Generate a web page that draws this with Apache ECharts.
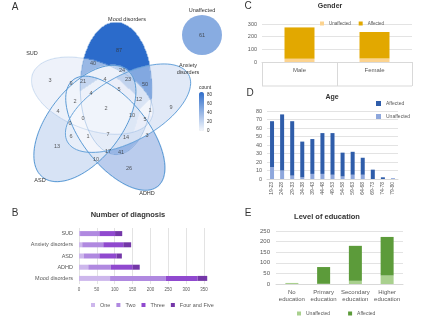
<!DOCTYPE html>
<html>
<head>
<meta charset="utf-8">
<script src="https://cdn.jsdelivr.net/npm/echarts@6/dist/echarts.min.js"></script>
<style>
html, body { margin: 0; padding: 0; background: #fff; }
#chart { width: 440px; height: 327px; }
</style>
</head>
<body>
<div id="chart"></div>
<script>
// ---- A: Venn diagram counts
var vennSets = ['Mood disorders', 'Anxiety disorders', 'ADHD', 'ASD', 'SUD'];
var vennCounts = [87, 40, 3, 24, 23, 50, 9, 21, 4, 4, 5, 12, 9, 2, 4, 2, 1, 10, 5, 0, 0, 6, 1, 7, 14, 3, 13, 17, 41, 10, 26];
var unaffectedCount = 61;
var countTicks = [0, 20, 40, 60, 80];

// ---- B: number of diagnosis
var diagCats = ['SUD', 'Anxiety disorders', 'ASD', 'ADHD', 'Mood disorders'];
var diagOne = [3, 9, 13, 26, 87];
var diagTwo = [54, 59, 44, 63, 156];
var diagThree = [44, 56, 48, 61, 89];
var diagFour = [20, 22, 15, 20, 27];

// ---- C: gender
var genderCats = ['Male', 'Female'];
var genderUnaff = [26, 28];
var genderAff = [247, 209];

// ---- D: age
var ageCats = ['19-23', '24-28', '29-33', '34-38', '39-43', '44-48', '49-53', '54-58', '59-63', '64-68', '69-73', '74-78', '79-80'];
var ageAff = [54, 66, 64, 42, 41, 48, 49, 28, 27, 20, 11, 2, 0];
var ageUnaff = [14, 10, 4, 2, 6, 6, 5, 3, 5, 5, 0, 0, 1];

// ---- E: level of education
var eduCats = ['No\neducation', 'Primary\neducation', 'Secondary\neducation', 'Higher\neducation'];
var eduUnaff = [5, 1, 15, 40];
var eduAff = [0, 79, 165, 182];

// ---- venn layout in pixels: label anchors, set ellipses [cx, cy, a, b, angle]
var vennPos = [[119,50],[93,63],[50,80],[122,70],[128,79],[145,84],[71,83],[83,81],[105,79],[91,93],[119,89],[139,99],[171,107],[75,101],[58,111],[106,108],[150,110],[132,115],[145,119],[70,123],[83,118],[71,136],[88,136],[108,134],[126,137],[147,135],[57,146],[108,151],[121,152],[96,159],[129,168]];
var ellipses = [
  [116.1, 88.6, 66.0, 35.8, -90.3],
  [128.0, 108.2, 69.3, 32.8, -29.1],
  [115.3, 133.2, 68.0, 33.0, 51.5],
  [84.9, 123.5, 68.3, 36.3, 128.3],
  [92.3, 95.7, 63.5, 34.0, 200.0]
];
var unaffCircle = [202, 35, 40];
var VX = 25, VY = 12, VW = 200, VH = 190;
var FONT = 'Liberation Sans';

function inside(e, px, py) {
  var t = e[4] * Math.PI / 180, dx = px - e[0], dy = py - e[1];
  var u = dx * Math.cos(t) + dy * Math.sin(t), v = -dx * Math.sin(t) + dy * Math.cos(t);
  return u * u / (e[2] * e[2]) + v * v / (e[3] * e[3]) <= 1;
}
function maskAt(px, py) {
  var m = 0;
  ellipses.forEach(function (e, k) { if (inside(e, px, py)) m |= 1 << k; });
  return m;
}
var labelMasks = vennPos.map(function (p) { return maskAt(p[0], p[1]); });

// each venn cell takes the count of the closest label lying in the same region
function regionValue(m, px, py) {
  var bi = -1, bd = Infinity, ai = -1, ad = Infinity;
  for (var k = 0; k < labelMasks.length; k++) {
    var dd = Math.pow(vennPos[k][0] - px, 2) + Math.pow(vennPos[k][1] - py, 2);
    if (dd < ad) { ad = dd; ai = k; }
    if (labelMasks[k] === m && dd < bd) { bd = dd; bi = k; }
  }
  return vennCounts[bi < 0 ? ai : bi];
}
var cells = [];
for (var j = 0; j < VH; j++) {
  for (var i = 0; i < VW; i++) {
    var px = VX + i + 0.5, py = VY + j + 0.5, m = maskAt(px, py);
    if (m) cells.push([i, j, regionValue(m, px, py)]);
  }
}

function outline(e) {
  var pts = [], t = e[4] * Math.PI / 180;
  for (var s = 0; s <= 180; s++) {
    var a = s / 180 * Math.PI * 2;
    pts.push([e[0] + e[2] * Math.cos(a) * Math.cos(t) - e[3] * Math.sin(a) * Math.sin(t) - VX,
              e[1] + e[2] * Math.cos(a) * Math.sin(t) + e[3] * Math.sin(a) * Math.cos(t) - VY]);
  }
  return pts;
}
var outlineColors = ['rgba(70,130,200,0.3)', '#6aa5db', '#5b9bd5', '#5b9bd5', 'rgba(70,130,200,0.2)'];

function idx(n) { var a = []; for (var q = 0; q < n; q++) a.push(q); return a; }
function T(text, x, y, size, weight, align) {
  return { text: text, left: x, top: y, padding: 0, textAlign: align || 'center', textVerticalAlign: 'middle',
    textStyle: { fontSize: size, fontWeight: weight || 'normal', color: '#333', fontFamily: FONT, lineHeight: size * 1.15 } };
}
function trimName(n) { return n.trim(); }
var axisTxt = { color: '#595959', fontFamily: FONT };
var grayLine = { lineStyle: { color: '#e3e3e3' } };

var titles = [
  T('A', 15, 7, 10), T('B', 15, 213, 10), T('C', 248, 6, 10), T('D', 250, 93, 10), T('E', 248, 213, 10),
  T('Number of diagnosis', 128, 215, 7.5, 'bold'), T('Gender', 330, 6, 7, 'bold'),
  T('Age', 332, 97, 7, 'bold'), T('Level of education', 327, 217, 7.5, 'bold'),
  T('Unaffected', 202, 10, 5.5), T(vennSets[0], 127, 19, 5.5), T(vennSets[4], 32, 53, 5.5),
  T('Anxiety\ndisorders', 188, 69, 5.5), T(vennSets[3], 40, 180, 5.5), T(vennSets[2], 147, 193, 5.5),
  T('count', 199, 88, 5, 'normal', 'left')
];
countTicks.forEach(function (v) {
  titles.push(T(String(v), 207, 92 + 39 * (1 - v / 87), 4.5, 'normal', 'left'));
});

var vennLabels = vennPos.map(function (p, k) { return [p[0] - VX, p[1] - VY, vennCounts[k]]; });
vennLabels.push([unaffCircle[0] - VX, unaffCircle[1] - VY, unaffectedCount]);

var series = [
  { type: 'heatmap', xAxisIndex: 0, yAxisIndex: 0, data: cells, progressive: 0, silent: true },
  { type: 'scatter', xAxisIndex: 1, yAxisIndex: 1, symbolSize: unaffCircle[2], silent: true,
    data: [[unaffCircle[0] - VX, unaffCircle[1] - VY, unaffectedCount]] }
];
ellipses.forEach(function (e, k) {
  series.push({ type: 'line', xAxisIndex: 1, yAxisIndex: 1, data: outline(e), symbol: 'none',
    silent: true, clip: false, lineStyle: { width: 1, color: outlineColors[k] }, z: 3 });
});
series.push({ type: 'scatter', xAxisIndex: 1, yAxisIndex: 1, data: vennLabels, symbolSize: 1, silent: true, z: 4,
  itemStyle: { color: 'rgba(0,0,0,0)' },
  label: { show: true, position: 'inside', formatter: function (p) { return p.value[2]; },
    fontSize: 5.5, color: '#333', fontFamily: FONT } });

var diagColors = ['#cdb7ec', '#b089e0', '#9049cf', '#7437a8'];
[['One', diagOne], ['Two', diagTwo], ['Three', diagThree], ['Four and Five', diagFour]].forEach(function (s, k) {
  series.push({ type: 'bar', name: s[0], xAxisIndex: 2, yAxisIndex: 2, stack: 'diag', data: s[1], barWidth: 5,
    clip: false, itemStyle: { color: diagColors[k] } });
});
series.push({ type: 'bar', name: 'Unaffected', xAxisIndex: 3, yAxisIndex: 3, stack: 'g', data: genderUnaff, barWidth: 30, itemStyle: { color: '#fcd38f' } });
series.push({ type: 'bar', name: 'Affected', xAxisIndex: 3, yAxisIndex: 3, stack: 'g', data: genderAff, barWidth: 30, itemStyle: { color: '#e2a800' } });
series.push({ type: 'bar', name: 'Unaffected ', xAxisIndex: 4, yAxisIndex: 4, stack: 'a', data: ageUnaff, barWidth: 4, itemStyle: { color: '#8ea7dc' } });
series.push({ type: 'bar', name: 'Affected ', xAxisIndex: 4, yAxisIndex: 4, stack: 'a', data: ageAff, barWidth: 4, itemStyle: { color: '#2f5daa' } });
series.push({ type: 'bar', name: 'Unaffected  ', xAxisIndex: 5, yAxisIndex: 5, stack: 'e', data: eduUnaff, barWidth: 13, itemStyle: { color: '#a9d08e' } });
series.push({ type: 'bar', name: 'Affected  ', xAxisIndex: 5, yAxisIndex: 5, stack: 'e', data: eduAff, barWidth: 13, itemStyle: { color: '#5c9b3a' } });

var hidden = { show: false };
var chart = echarts.init(document.getElementById('chart'));
chart.setOption({
  animation: false,
  backgroundColor: '#fff',
  title: titles,
  grid: [
    { left: VX, top: VY, width: VW, height: VH, outerBoundsMode: 'none' },
    { left: VX, top: VY, width: VW, height: VH, outerBoundsMode: 'none' },
    { left: 79, top: 228, width: 125, height: 56, outerBoundsMode: 'none' },
    { left: 262, top: 24, width: 150, height: 38, outerBoundsMode: 'none' },
    { left: 267, top: 111, width: 131, height: 68, outerBoundsMode: 'none' },
    { left: 276, top: 231, width: 127, height: 53, outerBoundsMode: 'none' }
  ],
  xAxis: [
    { type: 'category', gridIndex: 0, data: idx(VW), show: false },
    { type: 'value', gridIndex: 1, min: 0, max: VW, show: false },
    { type: 'value', gridIndex: 2, min: 0, max: 350, interval: 50, axisLine: hidden, axisTick: hidden,
      splitLine: grayLine, axisLabel: Object.assign({ fontSize: 4.5, margin: 3 }, axisTxt) },
    { type: 'category', gridIndex: 3, data: genderCats, axisLine: { lineStyle: { color: '#d9d9d9' } },
      axisTick: { show: true, length: 24, lineStyle: { color: '#d9d9d9' } },
      axisLabel: Object.assign({ fontSize: 6, margin: 5 }, axisTxt) },
    { type: 'category', gridIndex: 4, data: ageCats, axisLine: { lineStyle: { color: '#d9d9d9' } }, axisTick: hidden,
      axisLabel: Object.assign({ fontSize: 5, rotate: 90, margin: 3, interval: 0 }, axisTxt) },
    { type: 'category', gridIndex: 5, data: eduCats, axisLine: { lineStyle: { color: '#d9d9d9' } }, axisTick: hidden,
      axisLabel: Object.assign({ fontSize: 6, lineHeight: 6.7, margin: 5, interval: 0 }, axisTxt) }
  ],
  yAxis: [
    { type: 'category', gridIndex: 0, data: idx(VH), inverse: true, show: false },
    { type: 'value', gridIndex: 1, min: 0, max: VH, inverse: true, show: false },
    { type: 'category', gridIndex: 2, data: diagCats, inverse: true, axisLine: hidden, axisTick: hidden,
      axisLabel: Object.assign({ fontSize: 5.5, margin: 6 }, axisTxt) },
    { type: 'value', gridIndex: 3, min: 0, max: 300, interval: 100, axisLine: hidden, axisTick: hidden,
      splitLine: grayLine, axisLabel: Object.assign({ fontSize: 5.5, margin: 5 }, axisTxt) },
    { type: 'value', gridIndex: 4, min: 0, max: 80, interval: 10, axisLine: hidden, axisTick: hidden,
      splitLine: grayLine, axisLabel: Object.assign({ fontSize: 5.5, margin: 5 }, axisTxt) },
    { type: 'value', gridIndex: 5, min: 0, max: 250, interval: 50, axisLine: hidden, axisTick: hidden,
      splitLine: grayLine, axisLabel: Object.assign({ fontSize: 6, margin: 6 }, axisTxt) }
  ],
  visualMap: [{
    type: 'continuous', seriesIndex: [0, 1], dimension: 2, min: 0, max: 87, calculable: false,
    left: 199, top: 92, itemWidth: 5, itemHeight: 39, padding: 0, text: null, showLabel: false,
    inRange: { color: ['#f5f7fc', '#2f6ecb'] }
  }],
  legend: [
    { data: ['One', 'Two', 'Three', 'Four and Five'], left: 91, top: 302, icon: 'rect', itemWidth: 4, itemHeight: 4,
      itemGap: 6, selectedMode: false, padding: 0, textStyle: { fontSize: 5.5, color: '#595959', fontFamily: FONT } },
    { data: ['Unaffected', 'Affected'], left: 320, top: 21, icon: 'rect', itemWidth: 4, itemHeight: 4, itemGap: 8,
      selectedMode: false, padding: 0, textStyle: { fontSize: 4.5, color: '#595959', fontFamily: FONT } },
    { data: ['Affected ', 'Unaffected '], orient: 'vertical', left: 376, top: 101, icon: 'rect', itemWidth: 5, itemHeight: 5,
      itemGap: 8, selectedMode: false, padding: 0, formatter: trimName,
      textStyle: { fontSize: 5, color: '#595959', fontFamily: FONT } },
    { data: ['Unaffected  ', 'Affected  '], left: 297, top: 311, icon: 'rect', itemWidth: 4, itemHeight: 4, itemGap: 18,
      selectedMode: false, padding: 0, formatter: trimName,
      textStyle: { fontSize: 5, color: '#595959', fontFamily: FONT } }
  ],
  graphic: [
    { type: 'line', shape: { x1: 262, y1: 86, x2: 412, y2: 86 }, style: { stroke: '#d9d9d9', lineWidth: 1 } }
  ],
  series: series
});
</script>
</body>
</html>
